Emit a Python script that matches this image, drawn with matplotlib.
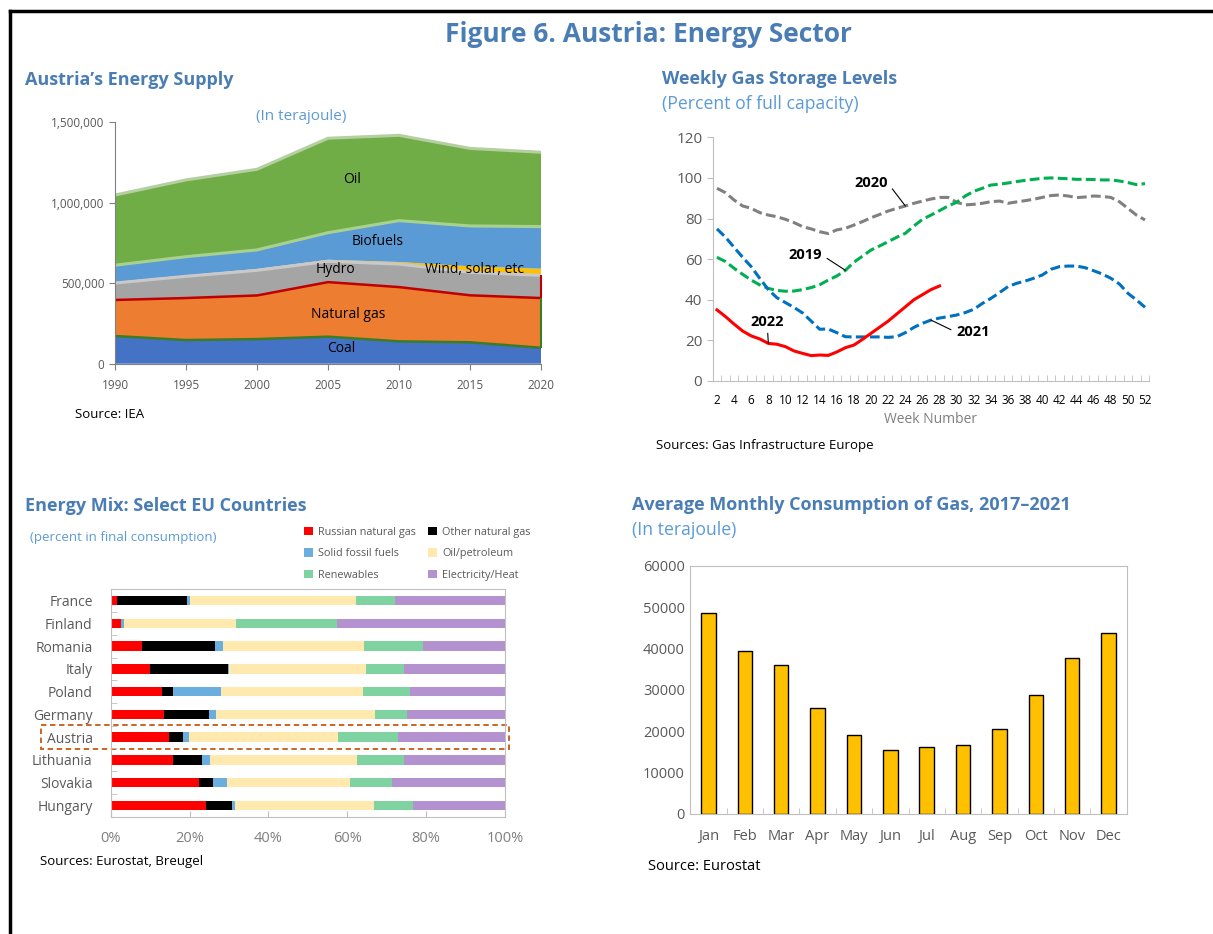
import matplotlib
matplotlib.use('Agg')
import numpy as np
import matplotlib.pyplot as plt
from matplotlib.patches import Rectangle
from matplotlib.lines import Line2D
from matplotlib.ticker import FuncFormatter, MultipleLocator

plt.rcParams['font.family'] = ['Open Sans', 'DejaVu Sans']

W, H = 1213, 934
TITLE_BLUE = '#4a7db3'
SUB_BLUE = '#5b9bd5'
TICK_GRAY = '#595959'
SPINE_GRAY = '#bfbfbf'

# Austria's energy supply, terajoule (layers, bottom to top)
years = [1990, 1995, 2000, 2005, 2010, 2015, 2020]
coal = [172000, 147000, 153000, 168000, 139000, 133000, 99000]
natural_gas = [224000, 261000, 271000, 339000, 337000, 292000, 309000]
hydro = [105000, 135000, 156000, 129000, 143000, 143000, 141000]
wind_solar = [7000, 6000, 9000, 10000, 13000, 37000, 41000]
biofuels = [104000, 116000, 118000, 168000, 257000, 251000, 262000]
oil = [436000, 477000, 501000, 587000, 530000, 482000, 462000]

# weekly gas storage, percent of full capacity
weeks = list(range(2, 53))
storage_2019 = [60.9, 58.8, 55.5, 52.5, 49.7, 47.3, 45.6, 44.6, 44.2, 44.3,
                45.0, 46.0, 47.4, 49.7, 51.7, 54.5, 58.5, 61.5, 64.5, 66.5,
                68.6, 70.8, 72.7, 76.3, 79.6, 81.7, 83.9, 86.2, 88.0, 91.1,
                93.4, 94.9, 96.5, 96.9, 97.5, 98.2, 98.8, 99.3, 99.8, 100.0,
                99.8, 99.6, 99.3, 99.3, 99.2, 99.0, 99.0, 98.5, 97.7, 96.7,
                97.2]
storage_2020 = [94.9, 92.7, 89.1, 86.2, 85.0, 82.9, 81.7, 80.9, 79.6, 78.0,
                76.0, 74.9, 73.5, 72.6, 74.4, 75.2, 76.8, 78.5, 80.4, 82.0,
                83.7, 85.0, 86.2, 87.5, 88.6, 89.6, 90.4, 90.4, 88.0, 86.7,
                87.0, 87.5, 88.3, 88.6, 87.5, 88.2, 88.8, 89.5, 90.4, 91.3,
                91.6, 91.1, 90.3, 90.6, 91.1, 90.9, 90.4, 88.3, 85.0, 81.7,
                79.3]
storage_2021 = [74.9, 70.8, 65.8, 60.9, 56.3, 50.5, 45.0, 41.0, 38.6, 36.2,
                33.5, 29.5, 25.5, 25.6, 23.8, 21.8, 21.7, 21.7, 21.7, 21.7,
                21.5, 21.8, 23.8, 26.4, 28.4, 30.0, 31.0, 31.7, 32.5, 33.7,
                35.3, 38.2, 40.7, 43.5, 46.5, 48.1, 49.2, 50.6, 52.2, 55.0,
                56.3, 56.6, 56.6, 55.8, 54.3, 52.7, 50.6, 47.8, 43.2, 39.9,
                36.3]
weeks_2022 = list(range(2, 29))
storage_2022 = [35.0, 31.7, 28.0, 24.6, 22.2, 20.7, 18.5, 18.1, 16.9, 14.8,
                13.6, 12.5, 12.8, 12.6, 14.3, 16.4, 17.7, 20.5, 23.5, 26.5,
                29.5, 33.0, 36.5, 40.0, 42.5, 45.0, 46.8]

# energy mix, percent in final consumption
countries = ['France', 'Finland', 'Romania', 'Italy', 'Poland', 'Germany',
             'Austria', 'Lithuania', 'Slovakia', 'Hungary']
mix_labels = ['Russian natural gas', 'Other natural gas', 'Solid fossil fuels',
              'Oil/petroleum', 'Renewables', 'Electricity/Heat']
russian_gas = [1.5, 2.7, 7.9, 9.9, 12.9, 13.4, 14.9, 15.9, 22.4, 24.1]
other_gas = [17.9, 0.0, 18.5, 19.9, 2.9, 11.6, 3.5, 7.2, 3.6, 6.7]
solid_fossil = [0.6, 0.6, 2.0, 0.2, 12.2, 1.7, 1.5, 2.1, 3.5, 0.7]
oil_petroleum = [42.2, 28.5, 35.9, 34.7, 36.1, 40.3, 37.8, 37.2, 31.2, 35.4]
renewables = [9.9, 25.5, 14.8, 9.7, 11.7, 8.1, 15.1, 12.0, 10.6, 9.7]
electricity_heat = [27.9, 42.7, 20.9, 25.6, 24.2, 24.9, 27.2, 25.6, 28.7, 23.4]

# average monthly gas consumption 2017-2021, terajoule
months = ['Jan', 'Feb', 'Mar', 'Apr', 'May', 'Jun',
          'Jul', 'Aug', 'Sep', 'Oct', 'Nov', 'Dec']
gas_use = [48600, 39400, 36100, 25500, 19100, 15500,
           16200, 16700, 20500, 28800, 37600, 43700]


def rect(left, top, right, bottom):
    return [left / W, 1 - bottom / H, (right - left) / W, (bottom - top) / H]


def ftext(fig, x, y, s, **kw):
    kw.setdefault('va', 'center')
    fig.text(x / W, 1 - y / H, s, **kw)


fig = plt.figure(figsize=(W / 100, H / 100), dpi=100)

# frame
fig.add_artist(Line2D([10 / W, 1], [1 - 11 / H, 1 - 11 / H], color='black', lw=2.5))
fig.add_artist(Line2D([10 / W, 10 / W], [0, 1 - 11 / H], color='black', lw=2.5))

ftext(fig, 648, 34, 'Figure 6. Austria: Energy Sector', ha='center',
      fontsize=19, fontweight='bold', color=TITLE_BLUE)

# ---------------- top left: energy supply
ax1 = fig.add_axes(rect(115, 122.3, 541, 363.7))
layers = [coal, natural_gas, hydro, wind_solar, biofuels, oil]
layer_colors = ['#4472c4', '#ed7d31', '#a5a5a5', '#ffc000', '#5b9bd5', '#70ad47']
ax1.stackplot(years, *layers, colors=layer_colors, lw=0)
cum = np.cumsum(np.array(layers), axis=0)
edge_colors = ['#3b7d23', '#c00000', '#c9c9c9', '#f4b183', '#a9d18e', '#b4cfa0']
for i, c in enumerate(edge_colors):
    if i == 3:
        continue
    ax1.plot(years, cum[i], color=c, lw=1.8 if i < 2 else 2.2)
ax1.vlines(years[-1], cum[0][-1], cum[1][-1], color='#3b7d23', lw=1.5, clip_on=False)
ax1.vlines(years[-1], cum[1][-1], cum[2][-1], color='#c00000', lw=1.5, clip_on=False)
ax1.set_xlim(1990, 2020)
ax1.set_ylim(0, 1500000)
ax1.set_xticks(years)
ax1.set_yticks([0, 500000, 1000000, 1500000])
ax1.yaxis.set_major_formatter(FuncFormatter(lambda v, p: f'{v:,.0f}'))
for s in ['top', 'right']:
    ax1.spines[s].set_visible(False)
for s in ['left', 'bottom']:
    ax1.spines[s].set_color('#808080')
ax1.tick_params(colors='#808080', labelcolor=TICK_GRAY, labelsize=8.5, length=4)
ax1.tick_params(axis='x', pad=7)

lab_kw = dict(ha='center', va='center', fontsize=10, color='black')
ax1.text(2006.7, 1143000, 'Oil', **lab_kw)
ax1.text(2008.5, 758000, 'Biofuels', **lab_kw)
ax1.text(2005.5, 584000, 'Hydro', **lab_kw)
ax1.text(2015.3, 584000, 'Wind, solar, etc', **lab_kw)
ax1.text(2006.4, 304000, 'Natural gas', **lab_kw)
ax1.text(2005.9, 93000, 'Coal', **lab_kw)

ftext(fig, 25, 80, 'Austria\u2019s Energy Supply', fontsize=13,
      fontweight='bold', color=TITLE_BLUE)
ftext(fig, 301, 117, '(In terajoule)', ha='center', fontsize=11, color=SUB_BLUE)
ftext(fig, 75, 415, 'Source: IEA', fontsize=9.5, color='black')

# ---------------- top right: weekly gas storage
ax2 = fig.add_axes(rect(712.7, 137.3, 1149.3, 381))
dash = (0, (3.2, 1.4))
ax2.plot(weeks, storage_2020, color='#808080', lw=2.2, ls=dash)
ax2.plot(weeks, storage_2019, color='#00b050', lw=2.2, ls=dash)
ax2.plot(weeks, storage_2021, color='#0070c0', lw=2.2, ls=dash)
ax2.plot(weeks_2022, storage_2022, color='#ff0000', lw=2.2)
ax2.set_xlim(1.5, 52.5)
ax2.set_ylim(0, 120)
ax2.set_xticks(range(2, 53, 2))
ax2.xaxis.set_minor_locator(MultipleLocator(1, offset=0.5))
ax2.set_yticks(range(0, 121, 20))
for s in ['top', 'right']:
    ax2.spines[s].set_visible(False)
for s in ['left', 'bottom']:
    ax2.spines[s].set_color(SPINE_GRAY)
ax2.tick_params(axis='y', colors=SPINE_GRAY, labelcolor=TICK_GRAY, labelsize=11, length=4)
ax2.tick_params(axis='x', which='major', length=0, labelsize=8.5, labelcolor='black', pad=9)
ax2.tick_params(axis='x', which='minor', direction='in', length=4, color=SPINE_GRAY)
ax2.set_xlabel('Week Number', fontsize=10, color='#7f7f7f', labelpad=4)

ann_kw = dict(fontsize=10.5, fontweight='bold', color='black', ha='center', va='center')
ax2.annotate('2020', xy=(24, storage_2020[22]), xytext=(20.0, 97.5),
             arrowprops=dict(arrowstyle='-', color='black', lw=0.8, relpos=(1, 0.5),
                             shrinkA=2, shrinkB=0), **ann_kw)
ax2.annotate('2019', xy=(17, storage_2019[15]), xytext=(12.3, 62),
             arrowprops=dict(arrowstyle='-', color='black', lw=0.8, relpos=(1, 0.5),
                             shrinkA=2, shrinkB=0), **ann_kw)
ax2.annotate('2022', xy=(8, storage_2022[6]), xytext=(7.9, 29),
             arrowprops=dict(arrowstyle='-', color='black', lw=0.8, relpos=(0.5, 0),
                             shrinkA=1, shrinkB=0), **ann_kw)
ax2.annotate('2021', xy=(27, storage_2021[25]), xytext=(31.9, 24),
             arrowprops=dict(arrowstyle='-', color='black', lw=0.8, relpos=(0, 0.5),
                             shrinkA=2, shrinkB=0), **ann_kw)

ftext(fig, 662, 79, 'Weekly Gas Storage Levels', fontsize=13,
      fontweight='bold', color=TITLE_BLUE)
ftext(fig, 662, 104, '(Percent of full capacity)', fontsize=12.7, color=SUB_BLUE)
ftext(fig, 656, 445, 'Sources: Gas Infrastructure Europe', fontsize=9.5, color='black')

# ---------------- bottom left: energy mix
ax3 = fig.add_axes(rect(110.7, 589.3, 505, 816.7))
mix = [russian_gas, other_gas, solid_fossil, oil_petroleum, renewables, electricity_heat]
mix_colors = ['#ff0000', '#000000', '#6aaee0', '#ffe9ae', '#7ed3a0', '#b392cf']
ypos = np.arange(len(countries))
left = np.zeros(len(countries))
handles = []
for vals, col, lab in zip(mix, mix_colors, mix_labels):
    b = ax3.barh(ypos, vals, left=left, height=0.42, color=col, label=lab, lw=0)
    handles.append(b)
    left += np.array(vals)
ax3.set_xlim(0, 100)
ax3.set_ylim(len(countries) - 0.5, -0.5)
ax3.set_yticks(ypos)
ax3.set_yticklabels(countries)
ax3.yaxis.set_minor_locator(MultipleLocator(1, offset=0.5))
ax3.set_xticks(range(0, 101, 20))
ax3.xaxis.set_major_formatter(FuncFormatter(lambda v, p: f'{v:.0f}%'))
for s in ax3.spines.values():
    s.set_color(SPINE_GRAY)
ax3.tick_params(axis='y', which='major', length=0, labelsize=10, labelcolor=TICK_GRAY, pad=13)
ax3.tick_params(axis='y', which='minor', direction='in', length=4, color=SPINE_GRAY)
ax3.tick_params(axis='x', direction='in', length=4, color=SPINE_GRAY,
                labelsize=10.5, labelcolor='#7f7f7f', pad=10)
ax3.add_patch(Rectangle((-17.7, 5.48), 118.6, 1.04, fill=False, ls=(0, (3, 2)),
                        lw=1.3, edgecolor='#c55a11', clip_on=False))
order = [0, 2, 4, 1, 3, 5]
fig.legend([handles[i] for i in order], [mix_labels[i] for i in order],
           loc='upper left', bbox_to_anchor=(304 / W, 1 - 527 / H), ncol=2,
           frameon=False, fontsize=7.8, handlelength=0.8, handleheight=0.8,
           handletextpad=0.45, columnspacing=1.2, labelspacing=0.95,
           labelcolor=TICK_GRAY, borderaxespad=0, borderpad=0)

ftext(fig, 25, 506, 'Energy Mix: Select EU Countries', fontsize=13,
      fontweight='bold', color=TITLE_BLUE)
ftext(fig, 30, 538, '(percent in final consumption)', fontsize=9.5, color=SUB_BLUE)
ftext(fig, 40, 862, 'Sources: Eurostat, Breugel', fontsize=9.5, color='black')

# ---------------- bottom right: monthly consumption
ax4 = fig.add_axes(rect(690.3, 566, 1126.7, 813.7))
ax4.bar(range(len(months)), gas_use, width=0.4, color='#ffc000',
        edgecolor='black', lw=1)
ax4.set_xlim(-0.5, len(months) - 0.5)
ax4.set_ylim(0, 60000)
ax4.set_yticks(range(0, 60001, 10000))
ax4.set_xticks(range(len(months)))
ax4.set_xticklabels(months)
ax4.xaxis.set_minor_locator(MultipleLocator(1, offset=0.5))
for s in ax4.spines.values():
    s.set_color(SPINE_GRAY)
ax4.tick_params(axis='y', length=0, labelsize=10.5, labelcolor=TICK_GRAY, pad=4)
ax4.tick_params(axis='x', which='major', length=0, labelsize=10.5,
                labelcolor=TICK_GRAY, pad=11)
ax4.tick_params(axis='x', which='minor', direction='in', length=4, color=SPINE_GRAY)

ftext(fig, 632, 505, 'Average Monthly Consumption of Gas, 2017\u20132021', fontsize=13,
      fontweight='bold', color=TITLE_BLUE)
ftext(fig, 632, 530, '(In terajoule)', fontsize=12.7, color=SUB_BLUE)
ftext(fig, 648, 866, 'Source: Eurostat', fontsize=10.5, color='black')

fig.savefig('out.png', dpi=100)
